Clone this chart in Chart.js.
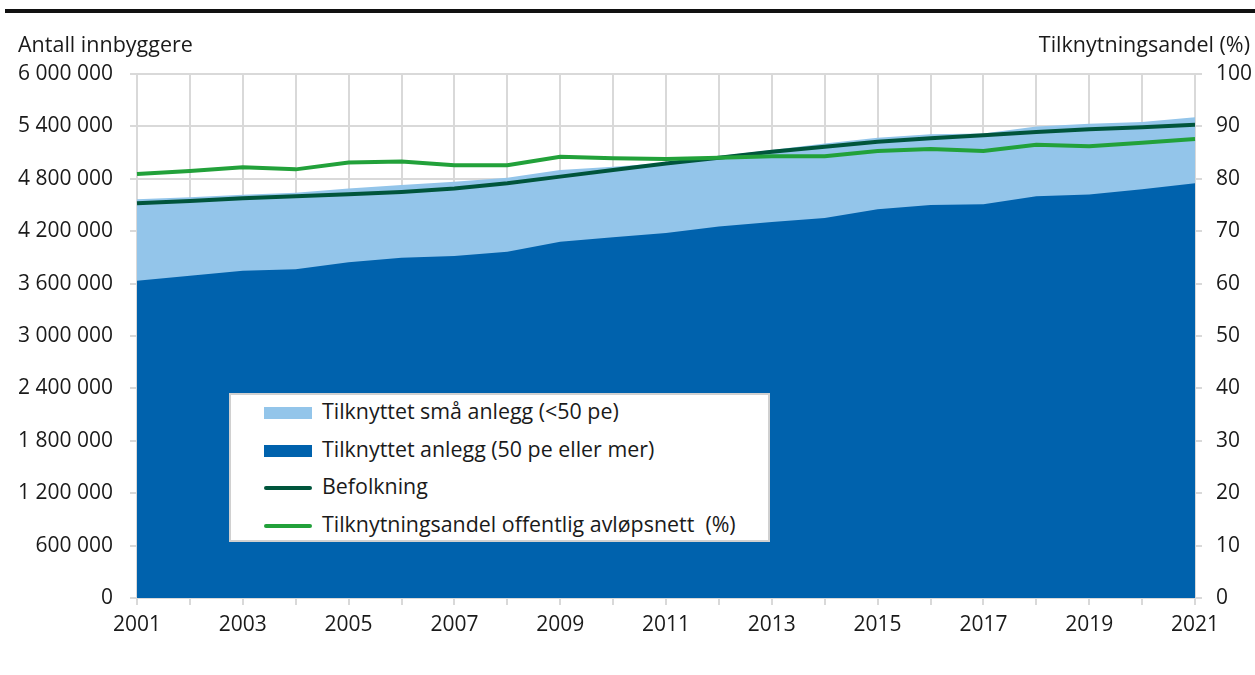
<!DOCTYPE html>
<html lang="no">
<head>
<meta charset="UTF-8">
<title>Tilknytning avløpsnett</title>
<script src="https://cdn.jsdelivr.net/npm/chart.js"></script>
<style>
  body { margin: 0; background: #fff; font-family: "Open Sans", sans-serif; color: #1a1a1a; }
  .ramme { position: relative; width: 1255px; height: 675px; }
  .strek { position: absolute; left: 5px; right: 0; top: 9px; height: 4px; background: #111; }
  .aksetittel { position: absolute; top: 29px; font-size: 21.5px; }
  #venstre { left: 18px; }
  #hoyre { right: 5px; }
  #legende {
    position: absolute; left: 229px; top: 393px; width: 537px; height: 145px;
    background: #fff; border: 2px solid #d0d0d0; font-size: 21.4px;
  }
  .rad { position: absolute; left: 33px; height: 26px; line-height: 26px; white-space: pre; }
  .symbol { display: inline-block; width: 48px; vertical-align: middle; margin-right: 10px; }
</style>
</head>
<body>
<div class="ramme">
  <div class="strek"></div>
  <div class="aksetittel" id="venstre">Antall innbyggere</div>
  <div class="aksetittel" id="hoyre">Tilknytningsandel (%)</div>
  <canvas id="grafikk" width="1255" height="675"></canvas>
  <div id="legende"></div>
</div>

<script>
// år
const aar = ['2001','2002','2003','2004','2005','2006','2007','2008','2009','2010','2011',
             '2012','2013','2014','2015','2016','2017','2018','2019','2020','2021'];

// innbyggere tilknyttet anlegg (50 pe eller mer)
const storeAnlegg = [3633000, 3690000, 3748000, 3764000, 3844000, 3897000, 3916000, 3966000, 4080000, 4130000, 4180000,
                     4255000, 4305000, 4350000, 4450000, 4500000, 4510000, 4600000, 4620000, 4680000, 4750000];

// innbyggere tilknyttet små anlegg (<50 pe)
const smaaAnlegg = [932000, 900000, 868000, 875000, 846000, 833000, 851000, 847000, 820000, 809000, 805000,
                    805000, 825000, 855000, 820000, 810000, 810000, 800000, 810000, 770000, 755000];

// befolkning
const befolkning = [4520000, 4546000, 4577000, 4600000, 4622000, 4650000, 4690000, 4750000, 4825000, 4900000, 4975000,
                    5042000, 5110000, 5168000, 5225000, 5263000, 5300000, 5335000, 5367000, 5390000, 5420000];

// tilknytningsandel offentlig avløpsnett (%)
const andel = [80.9, 81.5, 82.2, 81.8, 83.1, 83.3, 82.6, 82.6, 84.2, 83.9, 83.8,
               84.0, 84.3, 84.3, 85.3, 85.7, 85.3, 86.5, 86.2, 86.9, 87.6];

const navn = ['Tilknyttet små anlegg (<50 pe)', 'Tilknyttet anlegg (50 pe eller mer)',
              'Befolkning', 'Tilknytningsandel offentlig avløpsnett  (%)'];

const lysBla = '#93c5ea';
const morkBla = '#0062ad';
const morkGronn = '#00553c';
const gronn = '#22a13a';
const rutenett = '#d9d9d9';

// sum av store og små anlegg (toppen av det lyse feltet)
const totalt = storeAnlegg.map((v, i) => v + smaaAnlegg[i]);

function tusen(v) {
    return String(v).replace(/\B(?=(\d{3})+(?!\d))/g, '\u00a0');
}

const font = { family: '"Open Sans", sans-serif', size: 21 };

new Chart(document.getElementById('grafikk'), {
    type: 'line',
    data: {
        labels: aar,
        datasets: [
            {
                label: navn[3], data: andel, yAxisID: 'y2',
                borderColor: gronn, borderWidth: 4, pointRadius: 0, fill: false, order: 0
            },
            {
                label: navn[2], data: befolkning, yAxisID: 'y',
                borderColor: morkGronn, borderWidth: 4, pointRadius: 0, fill: false, order: 1
            },
            {
                label: navn[1], data: storeAnlegg, yAxisID: 'y',
                borderWidth: 0, borderColor: morkBla, backgroundColor: morkBla,
                pointRadius: 0, fill: 'origin', order: 2
            },
            {
                label: navn[0], data: totalt, yAxisID: 'y',
                borderWidth: 0, borderColor: lysBla, backgroundColor: lysBla,
                pointRadius: 0, fill: 'origin', order: 3
            }
        ]
    },
    options: {
        responsive: false,
        animation: false,
        layout: { padding: { top: 74, left: 0, right: 0, bottom: 0 } },
        plugins: { legend: { display: false }, tooltip: { enabled: false } },
        scales: {
            x: {
                grid: { color: rutenett, lineWidth: 2, tickLength: 7 },
                border: { color: rutenett, width: 2 },
                ticks: {
                    color: '#1a1a1a', font: font, padding: 7,
                    autoSkip: false, maxRotation: 0,
                    callback: function (v, i) { return i % 2 === 0 ? aar[i] : ''; }
                },
                afterFit: s => { s.height = 77; }
            },
            y: {
                position: 'left', min: 0, max: 6000000,
                grid: { color: rutenett, lineWidth: 2, tickLength: 7 },
                border: { display: false },
                ticks: { stepSize: 600000, color: '#1a1a1a', font: font, padding: 17, callback: v => tusen(v) },
                afterFit: s => { s.width = 137; }
            },
            y2: {
                position: 'right', min: 0, max: 100,
                grid: { drawOnChartArea: false, color: rutenett, lineWidth: 2, tickLength: 7 },
                border: { display: false },
                ticks: { stepSize: 10, color: '#1a1a1a', font: font, padding: 14 },
                afterFit: s => { s.width = 60; }
            }
        }
    }
});

// legende
const symboler = [
    '<span class="symbol" style="height:12px;background:' + lysBla + '"></span>',
    '<span class="symbol" style="height:12px;background:' + morkBla + '"></span>',
    '<span class="symbol" style="height:4px;border-radius:2px;background:' + morkGronn + '"></span>',
    '<span class="symbol" style="height:4px;border-radius:2px;background:' + gronn + '"></span>'
];
const leg = document.getElementById('legende');
navn.forEach((n, i) => {
    const rad = document.createElement('div');
    rad.className = 'rad';
    rad.style.top = (3 + i * 37.5) + 'px';
    rad.innerHTML = symboler[i] + '<span></span>';
    rad.lastChild.textContent = n;
    leg.appendChild(rad);
});
</script>
</body>
</html>
